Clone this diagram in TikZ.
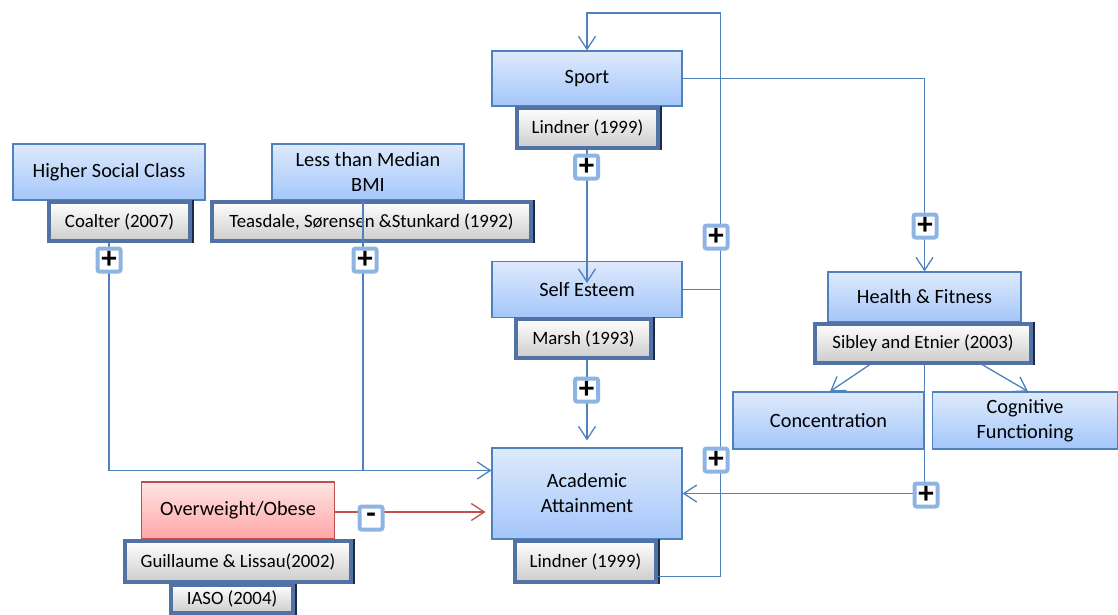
\documentclass[tikz,border=0pt]{standalone}
\usepackage{fontspec}
\setmainfont{Carlito}
\usetikzlibrary{arrows.meta,calc}

\definecolor{linkblue}{RGB}{79,129,189}
\definecolor{boxtop}{RGB}{222,234,252}
\definecolor{boxbot}{RGB}{164,198,250}
\definecolor{citeframe}{RGB}{82,114,165}
\definecolor{citedark}{RGB}{28,42,72}
\definecolor{plusframe}{RGB}{141,180,226}
\definecolor{riskred}{RGB}{192,80,77}
\definecolor{pinktop}{RGB}{255,228,228}
\definecolor{pinkbot}{RGB}{255,166,166}

\newcommand\conceptfont{\fontsize{20.3}{25}\selectfont}
\newcommand\citefont{\fontsize{18.8}{22}\selectfont}

\tikzset{
  concept/.style={rectangle, draw=linkblue, line width=1.1pt,
    top color=boxtop, bottom color=boxbot, align=center,
    inner sep=2pt, font=\conceptfont},
  risk/.style={concept, draw=riskred, top color=pinktop, bottom color=pinkbot},
  cite/.style={rectangle, draw=citeframe, line width=4pt,
    top color=white, middle color=white, bottom color=black!20,
    inner sep=2pt, font=\citefont},
  citeedge/.style={draw=citedark, line width=2pt},
  sign/.style={rectangle, draw=plusframe, line width=4pt, fill=white,
    rounded corners=2pt, minimum size=23pt, inner sep=0pt,
    font=\fontsize{31}{31}\selectfont\bfseries},
  link/.style={draw=linkblue, line width=1.3pt},
  linkarrow/.style={link, -{Straight Barb[length=13pt,width=17pt,line width=1.3pt]}},
  riskarrow/.style={draw=riskred, line width=1.3pt,
    -{Straight Barb[length=13pt,width=17pt,line width=1.3pt]}},
}

\newcommand\citeshade[1]{%
  \draw[citeedge] ([xshift=1pt]#1.north east) -- ([xshift=1pt]#1.south east);}

\begin{document}
\begin{tikzpicture}[x=1pt,y=-1pt]
\useasboundingbox (0,0) rectangle (1118,615);

% ---- concept boxes ----
\node[concept, minimum width=190pt, minimum height=55pt] (sport) at (587,78.5) {Sport};
\node[concept, minimum width=192pt, minimum height=56pt] (hsc) at (109,172) {Higher Social Class};
\node[concept, minimum width=192pt, minimum height=56pt] (lmb) at (368,172) {Less than Median\\BMI};
\node[concept, minimum width=190pt, minimum height=56pt] (selfesteem) at (587,289.5) {Self Esteem};
\node[concept, minimum width=193pt, minimum height=50pt] (health) at (924.5,297) {Health \& Fitness};
\node[concept, minimum width=191pt, minimum height=57pt] (concentration) at (828.5,420.5) {Concentration};
\node[concept, minimum width=185pt, minimum height=57pt] (cognitive) at (1025,420.5) {Cognitive\\Functioning};
\node[concept, minimum width=190pt, minimum height=91pt] (academic) at (587,493.5) {Academic\\Attainment};
\node[risk, minimum width=193pt, minimum height=57pt] (overweight) at (238,510.5) {Overweight/Obese};

% ---- citations ----
\node[cite, minimum width=141pt, minimum height=40pt] (sportcite) at (587.5,128) {Lindner (1999)};
\citeshade{sportcite}
\node[cite, minimum width=141pt, minimum height=39pt] (coalter) at (119.5,221.5) {Coalter (2007)};
\citeshade{coalter}
\node[cite, minimum width=319pt, minimum height=39pt] (teasdale) at (371.5,221.5) {Teasdale, Sørensen \&Stunkard (1992)};
\citeshade{teasdale}
\node[cite, minimum width=135pt, minimum height=39pt] (marsh) at (583.5,338.5) {Marsh (1993)};
\citeshade{marsh}
\node[cite, minimum width=216pt, minimum height=39pt] (sibley) at (923,343) {Sibley and Etnier (2003)};
\citeshade{sibley}
\node[cite, minimum width=141pt, minimum height=41pt] (academiccite) at (585.5,561.5) {Lindner (1999)};
\citeshade{academiccite}
\node[cite, minimum width=122pt, minimum height=28pt] (iaso) at (232,599) {IASO (2004)};
\citeshade{iaso}
\node[cite, minimum width=226pt, minimum height=41pt] (guillaume) at (238,561.5) {Guillaume \& Lissau(2002)};
\citeshade{guillaume}

% ---- connector turning points ----
\coordinate (loopR) at (720.5,13);
\coordinate (loopL) at (587,13);
\coordinate (seTip) at (587,283);
\coordinate (bmiJoin) at (363,470.5);

% ---- connectors ----
\draw[linkarrow] ([yshift=-15pt]academiccite.east) -| (loopR) -- (loopL) -- (sport.north);
\draw[link] (selfesteem.east) -- (selfesteem.east -| loopR);
\draw[linkarrow] (sport.east) -| (health.north);
\draw[linkarrow] (sportcite.south -| seTip) -- (seTip);
\draw[linkarrow, shorten >=7pt] (marsh.south -| academic.north) -- (academic.north);
\draw[linkarrow] (coalter.south -| hsc.south) |- ([yshift=23pt]academic.west);
\draw[link] (lmb.south -| bmiJoin) -- (bmiJoin);
\draw[riskarrow, shorten >=6pt] ([yshift=-1.5pt]overweight.east) -- ([yshift=-1.5pt]overweight.east -| academic.west);
\draw[linkarrow] (sibley.south -| health.north) |- (academic.east);
\draw[linkarrow] ([xshift=-53pt]sibley.south) -- ([xshift=1.5pt]concentration.north);
\draw[linkarrow] ([xshift=59pt]sibley.south) -- ([xshift=3pt]cognitive.north);

% ---- signs ----
\node[sign] (s1) at (586.5,167) {+};
\node[sign] (s2) at (109,260) {+};
\node[sign] (s3) at (365,260) {+};
\node[sign] (s4) at (586.5,390) {+};
\node[sign] (s5) at (716,237) {+};
\node[sign] (s6) at (925,226) {+};
\node[sign] (s7) at (716,460) {+};
\node[sign] (s8) at (926,495) {+};
\node[sign] (s9) at (371,518) {-};
\end{tikzpicture}
\end{document}
